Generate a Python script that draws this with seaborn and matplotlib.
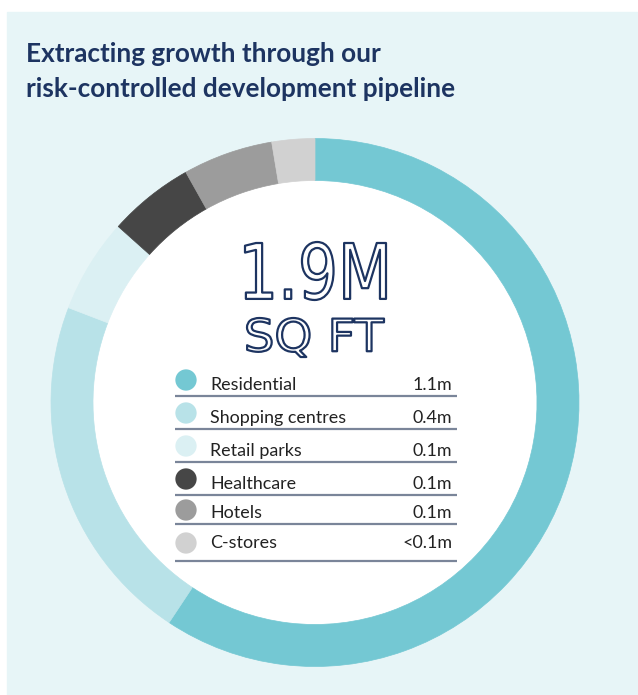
import matplotlib
matplotlib.use("Agg")
import matplotlib.pyplot as plt
import seaborn as sns
import pandas as pd
from matplotlib.patches import Rectangle, Circle, PathPatch
from matplotlib.textpath import TextPath
from matplotlib.font_manager import FontProperties
from matplotlib.transforms import Affine2D

# Data
categories = ["Residential", "Shopping centres", "Retail parks",
              "Healthcare", "Hotels", "C-stores"]
sq_ft_m = [1.13, 0.41, 0.11, 0.10, 0.105, 0.05]
value_labels = ["1.1m", "0.4m", "0.1m", "0.1m", "0.1m", "<0.1m"]
colors = ["#74C8D3", "#B8E2E8", "#DBF0F3", "#464646", "#9C9C9C", "#D1D1D1"]
total_label = "1.9M"
unit_label = "SQ FT"

W, H = 638, 695
NAVY = "#1D3461"
PANEL = "#E7F5F7"


def Y(y):
    # convert image pixel row to data y (y up)
    return H - y


sns.set_theme(style="white")
plt.rcParams["font.family"] = ["Lato", "DejaVu Sans"]

fig = plt.figure(figsize=(W / 100, H / 100), dpi=100)
ax = fig.add_axes([0, 0, 1, 1])

# Background panel
ax.add_patch(Rectangle((7, 0), W - 7, Y(12), color=PANEL, zorder=0))

# Title
ax.text(26, Y(62), "Extracting growth through our", fontsize=18.8,
        fontweight="bold", color=NAVY, va="baseline", ha="left")
ax.text(26, Y(97), "risk-controlled development pipeline", fontsize=18.8,
        fontweight="bold", color=NAVY, va="baseline", ha="left")

# Donut ring
cx, cy, R, ring = 315, Y(402.5), 264, 42
ax.add_patch(Circle((cx, cy), R - ring + 1, color="white", zorder=1))
wedges, _ = ax.pie(sq_ft_m, colors=colors, startangle=90, counterclock=False,
                   center=(cx, cy), radius=R, frame=True,
                   wedgeprops=dict(width=ring, linewidth=0.5))
for w in wedges:
    w.set_edgecolor(w.get_facecolor())

ax.set_xlim(0, W)
ax.set_ylim(0, H)
ax.set_aspect("equal")


# Outlined headline numbers
def outlined(text, x0, x1, y0, y1):
    tp = TextPath((0, 0), text, size=1,
                  prop=FontProperties(family="DejaVu Sans"))
    ext = tp.get_extents()
    tr = (Affine2D().translate(-ext.x0, -ext.y0)
          .scale((x1 - x0) / ext.width, (y1 - y0) / ext.height)
          .translate(x0, y0))
    path = tr.transform_path(tp)
    ax.add_patch(PathPatch(path, facecolor="white", edgecolor=NAVY,
                           linewidth=1.6, joinstyle="round", zorder=5))


outlined(total_label, 245, 386, Y(300), Y(242))
outlined(unit_label, 247, 384, Y(357), Y(318))

# Legend table
baselines = [390, 423, 456, 489, 518, 548]
rules = [396, 429, 462, 495, 524, 561]
dots = [380, 413, 446, 479, 510, 543]

legend_df = pd.DataFrame({
    "x": [186] * len(categories),
    "y": [Y(d) for d in dots],
    "category": categories,
})
sns.scatterplot(data=legend_df, x="x", y="y", hue="category",
                palette=colors, s=235, linewidth=0, legend=False,
                ax=ax, zorder=6)

for name, val, b, r in zip(categories, value_labels, baselines, rules):
    ax.text(210, Y(b), name, fontsize=12.9, color="#222222",
            va="baseline", ha="left", zorder=6)
    ax.text(452, Y(b), val, fontsize=12.9, color="#222222",
            va="baseline", ha="right", zorder=6)
    ax.plot([175, 457], [Y(r), Y(r)], color="#7A8599", lw=1.6,
            solid_capstyle="butt", zorder=6)

ax.set_xlim(0, W)
ax.set_ylim(0, H)
ax.set_aspect("equal")
ax.set_xlabel("")
ax.set_ylabel("")
ax.axis("off")

plt.savefig("out.png", dpi=100)
plt.close()
